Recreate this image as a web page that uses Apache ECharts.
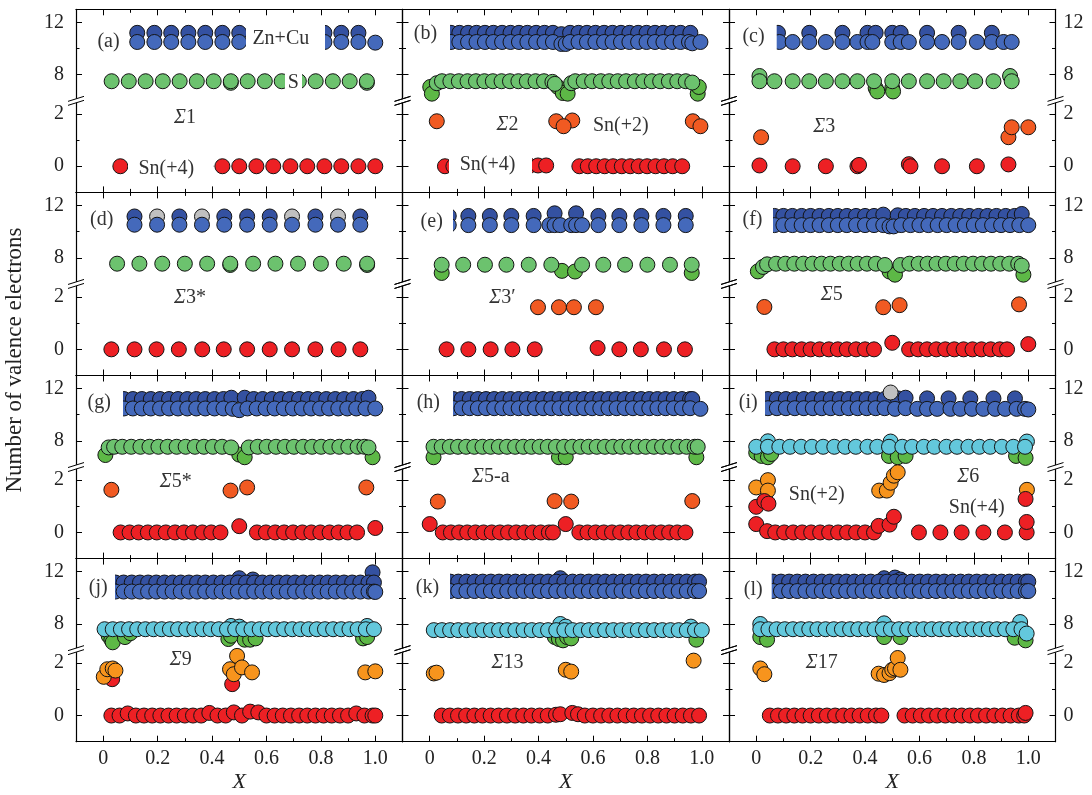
<!DOCTYPE html>
<html>
<head>
<meta charset="utf-8">
<script src="https://cdn.jsdelivr.net/npm/echarts@6/dist/echarts.min.js"></script>
<style>html,body{margin:0;padding:0;background:#fff}#chart{width:1092px;height:795px}</style>
</head>
<body>
<div id="chart"></div>
<script>
// ---------- tick labels ----------
const xTicks = [0, 0.2, 0.4, 0.6, 0.8, 1.0];
const xMinorTicks = [0.1, 0.3, 0.5, 0.7, 0.9];
const yTicksHi = [8, 12];
const yMinorHi = [10];
const yTicksLo = [0, 2];
const yMinorLo = [1];

// ---------- (a) Σ1 ----------
const aZnCuHi = [[0.125,11.2],[0.188,11.2],[0.25,11.2],[0.313,11.2],[0.375,11.2],[0.438,11.2],[0.5,11.2],[0.563,11.2],[0.625,11.2],[0.688,11.2],[0.75,11.2],[0.813,11.2],[0.875,11.2],[0.938,11.2]];
const aZnCuLo = [[0.125,10.5],[0.188,10.5],[0.25,10.5],[0.313,10.5],[0.375,10.5],[0.438,10.5],[0.5,10.5],[0.563,10.5],[0.625,10.5],[0.688,10.5],[0.75,10.5],[0.813,10.5],[0.875,10.5],[0.938,10.5],[1.0,10.45]];
const aS = [[0.469,7.38],[0.969,7.38],[0.031,7.5],[0.094,7.5],[0.156,7.5],[0.219,7.5],[0.281,7.5],[0.344,7.5],[0.406,7.5],[0.469,7.5],[0.531,7.5],[0.594,7.5],[0.656,7.5],[0.719,7.5],[0.781,7.5],[0.844,7.5],[0.906,7.5],[0.969,7.5]];
const aSn4 = [[0.063,0],[0.125,0],[0.188,0],[0.25,0],[0.313,0],[0.375,0],[0.438,0],[0.5,0],[0.563,0],[0.625,0],[0.688,0],[0.75,0],[0.813,0],[0.875,0],[0.938,0],[1.0,0]];

// ---------- (b) Σ2 ----------
const bZnCuHi = [[0.078,11.2],[0.109,11.2],[0.141,11.2],[0.172,11.2],[0.203,11.2],[0.234,11.2],[0.266,11.2],[0.297,11.2],[0.328,11.2],[0.359,11.2],[0.391,11.2],[0.422,11.2],[0.453,11.2],[0.484,11.1],[0.516,11.2],[0.547,11.2],[0.578,11.2],[0.609,11.2],[0.641,11.2],[0.672,11.2],[0.703,11.2],[0.734,11.2],[0.766,11.2],[0.797,11.2],[0.828,11.2],[0.859,11.2],[0.891,11.2],[0.922,11.2],[0.958,11.2]];
const bZnCuLo = [[0.078,10.5],[0.109,10.5],[0.141,10.5],[0.172,10.5],[0.203,10.5],[0.234,10.5],[0.266,10.5],[0.297,10.5],[0.328,10.5],[0.359,10.5],[0.391,10.5],[0.422,10.5],[0.453,10.5],[0.484,10.35],[0.5,10.35],[0.516,10.5],[0.547,10.5],[0.578,10.5],[0.609,10.5],[0.641,10.5],[0.672,10.5],[0.703,10.5],[0.734,10.5],[0.766,10.5],[0.797,10.5],[0.828,10.5],[0.859,10.5],[0.891,10.5],[0.922,10.5],[0.953,10.5],[0.965,10.4],[0.995,10.5]];
const bSd = [[0.002,7.06],[0.008,6.55],[0.471,7.06],[0.489,6.6],[0.507,6.55],[0.985,6.55],[0.989,7.06]];
const bS = [[0.026,7.35],[0.045,7.5],[0.076,7.5],[0.107,7.5],[0.139,7.5],[0.17,7.5],[0.201,7.5],[0.232,7.5],[0.264,7.5],[0.295,7.5],[0.326,7.5],[0.357,7.5],[0.389,7.5],[0.42,7.5],[0.451,7.45],[0.46,7.3],[0.52,7.35],[0.535,7.5],[0.566,7.5],[0.597,7.5],[0.629,7.5],[0.66,7.5],[0.691,7.5],[0.722,7.5],[0.754,7.5],[0.785,7.5],[0.816,7.5],[0.847,7.5],[0.879,7.5],[0.91,7.5],[0.941,7.5],[0.965,7.4]];
const bSn2 = [[0.026,1.72],[0.465,1.72],[0.524,1.75],[0.492,1.53],[0.967,1.72],[0.995,1.53]];
const bSn4 = [[0.056,0],[0.087,0],[0.118,0],[0.149,0],[0.18,0],[0.211,0],[0.243,0],[0.274,0],[0.305,0],[0.336,0],[0.367,0.02],[0.398,0.03],[0.428,0.03],[0.55,0],[0.581,0],[0.612,0],[0.643,0],[0.674,0],[0.706,0],[0.737,0],[0.768,0],[0.799,0],[0.83,0],[0.861,0],[0.893,0],[0.928,0]];

// ---------- (c) Σ3 ----------
const cZnCuHi = [[0.08,11.2],[0.195,11.2],[0.317,11.2],[0.409,11.2],[0.439,11.2],[0.5,11.2],[0.531,11.2],[0.628,11.2],[0.744,11.2],[0.866,11.2]];
const cZnCuLo = [[0.085,10.5],[0.134,10.5],[0.195,10.5],[0.256,10.5],[0.317,10.5],[0.372,10.5],[0.409,10.5],[0.427,10.5],[0.5,10.5],[0.531,10.5],[0.561,10.5],[0.628,10.5],[0.683,10.5],[0.744,10.5],[0.811,10.5],[0.866,10.5],[0.909,10.5],[0.939,10.5]];
const cSd = [[0.439,6.98],[0.445,6.72],[0.5,6.98],[0.503,6.72]];
const cS = [[0.012,7.9],[0.933,7.9],[0.012,7.5],[0.067,7.5],[0.134,7.5],[0.195,7.5],[0.256,7.5],[0.317,7.5],[0.372,7.5],[0.433,7.5],[0.5,7.5],[0.561,7.5],[0.628,7.5],[0.689,7.5],[0.75,7.5],[0.805,7.5],[0.872,7.5],[0.939,7.5]];
const cSn2 = [[0.018,1.11],[0.927,1.11],[0.939,1.49],[1.0,1.49]];
const cSn4 = [[0.012,0.03],[0.134,0],[0.256,0],[0.372,0],[0.378,0.05],[0.561,0.08],[0.567,0],[0.683,0],[0.811,0],[0.927,0.07]];

// ---------- (d) Σ3* ----------
const dZnCuHi = [[0.115,11.16],[0.28,11.16],[0.445,11.16],[0.529,11.16],[0.612,11.16],[0.78,11.16],[0.945,11.16]];
const dGray = [[0.198,11.16],[0.363,11.16],[0.694,11.16],[0.863,11.16]];
const dZnCuLo = [[0.115,10.53],[0.198,10.53],[0.28,10.53],[0.363,10.53],[0.445,10.53],[0.529,10.53],[0.612,10.53],[0.694,10.53],[0.78,10.53],[0.863,10.53],[0.945,10.53]];
const dS = [[0.467,7.45],[0.97,7.45],[0.051,7.55],[0.133,7.55],[0.217,7.55],[0.3,7.55],[0.382,7.55],[0.467,7.55],[0.551,7.55],[0.633,7.55],[0.716,7.55],[0.8,7.55],[0.884,7.55],[0.97,7.55]];
const dSn4 = [[0.03,0],[0.115,0],[0.196,0],[0.278,0],[0.364,0],[0.443,0],[0.529,0],[0.612,0],[0.694,0],[0.78,0],[0.865,0],[0.945,0]];

// ---------- (e) Σ3' ----------
const eZnCuHi = [[0.07,11.2],[0.142,11.2],[0.221,11.2],[0.3,11.2],[0.382,11.2],[0.459,11.4],[0.538,11.4],[0.62,11.2],[0.697,11.2],[0.778,11.2],[0.859,11.2],[0.941,11.2]];
const eZnCuLo = [[0.07,10.5],[0.142,10.5],[0.221,10.5],[0.3,10.5],[0.382,10.5],[0.44,10.5],[0.459,10.5],[0.48,10.5],[0.52,10.5],[0.538,10.5],[0.56,10.5],[0.62,10.5],[0.697,10.5],[0.778,10.5],[0.859,10.5],[0.941,10.5]];
const eSd = [[0.044,6.84],[0.486,7.0],[0.534,6.95],[0.963,6.84]];
const eS = [[0.044,7.47],[0.123,7.47],[0.203,7.47],[0.282,7.47],[0.364,7.47],[0.447,7.47],[0.56,7.47],[0.638,7.47],[0.718,7.47],[0.8,7.47],[0.883,7.47],[0.963,7.47]];
const eSn2 = [[0.398,1.61],[0.475,1.61],[0.53,1.61],[0.611,1.61]];
const eSn4 = [[0.062,0],[0.142,0],[0.224,0],[0.304,0],[0.386,0],[0.617,0.05],[0.697,0],[0.776,0],[0.861,0],[0.938,0]];

// ---------- (f) Σ5 ----------
const fZnCuHi = [[0.067,11.2],[0.1,11.2],[0.133,11.2],[0.167,11.2],[0.2,11.2],[0.233,11.2],[0.267,11.2],[0.3,11.2],[0.333,11.2],[0.367,11.2],[0.4,11.2],[0.433,11.2],[0.467,11.3],[0.52,11.25],[0.55,11.2],[0.583,11.2],[0.617,11.2],[0.65,11.2],[0.683,11.2],[0.717,11.2],[0.75,11.2],[0.783,11.2],[0.817,11.2],[0.85,11.2],[0.883,11.2],[0.917,11.2],[0.95,11.2],[0.976,11.35]];
const fZnCuLo = [[0.067,10.5],[0.1,10.5],[0.133,10.5],[0.167,10.5],[0.2,10.5],[0.233,10.5],[0.267,10.5],[0.3,10.5],[0.333,10.5],[0.367,10.5],[0.4,10.5],[0.433,10.5],[0.467,10.5],[0.49,10.4],[0.505,10.4],[0.533,10.5],[0.567,10.5],[0.6,10.5],[0.633,10.5],[0.667,10.5],[0.7,10.5],[0.733,10.5],[0.767,10.5],[0.8,10.5],[0.833,10.5],[0.867,10.5],[0.9,10.5],[0.933,10.5],[0.967,10.5],[1.0,10.5]];
const fSd = [[0.006,6.96],[0.49,6.95],[0.51,6.71],[0.982,6.71]];
const fS = [[0.025,7.3],[0.04,7.5],[0.073,7.55],[0.107,7.55],[0.14,7.55],[0.173,7.55],[0.207,7.55],[0.24,7.55],[0.273,7.55],[0.307,7.55],[0.34,7.55],[0.373,7.55],[0.407,7.55],[0.44,7.55],[0.473,7.45],[0.53,7.45],[0.563,7.55],[0.597,7.55],[0.63,7.55],[0.663,7.55],[0.697,7.55],[0.73,7.55],[0.763,7.55],[0.797,7.55],[0.83,7.55],[0.863,7.55],[0.897,7.55],[0.93,7.55],[0.963,7.55],[0.976,7.4]];
const fSn2 = [[0.03,1.62],[0.467,1.61],[0.527,1.69],[0.966,1.72]];
const fSn4 = [[0.067,0],[0.1,0],[0.133,0],[0.167,0],[0.2,0],[0.233,0],[0.267,0],[0.3,0],[0.333,0],[0.367,0],[0.4,0],[0.433,0],[0.5,0.25],[0.562,0],[0.595,0],[0.628,0],[0.662,0],[0.695,0],[0.728,0],[0.762,0],[0.795,0],[0.828,0],[0.862,0],[0.895,0],[0.922,0],[1.0,0.2]];

// ---------- (g) Σ5* ----------
const gZnCuHi = [[0.076,11.2],[0.109,11.2],[0.142,11.2],[0.175,11.2],[0.209,11.2],[0.242,11.2],[0.275,11.2],[0.309,11.2],[0.342,11.2],[0.375,11.2],[0.409,11.2],[0.442,11.2],[0.471,11.3],[0.52,11.3],[0.553,11.2],[0.586,11.2],[0.62,11.2],[0.653,11.2],[0.686,11.2],[0.72,11.2],[0.753,11.2],[0.786,11.2],[0.82,11.2],[0.853,11.2],[0.886,11.2],[0.92,11.2],[0.953,11.2],[0.975,11.3]];
const gZnCuLo = [[0.076,10.48],[0.109,10.48],[0.142,10.48],[0.175,10.48],[0.209,10.48],[0.242,10.48],[0.275,10.48],[0.309,10.48],[0.342,10.48],[0.375,10.48],[0.409,10.48],[0.442,10.48],[0.476,10.45],[0.5,10.35],[0.53,10.48],[0.564,10.48],[0.597,10.48],[0.63,10.48],[0.664,10.48],[0.697,10.48],[0.73,10.48],[0.764,10.48],[0.797,10.48],[0.83,10.48],[0.864,10.48],[0.897,10.48],[0.93,10.48],[0.964,10.48],[1.0,10.48]];
const gSd = [[0.008,6.92],[0.5,6.95],[0.52,6.75],[0.99,6.75]];
const gS = [[0.02,7.5],[0.04,7.55],[0.07,7.55],[0.103,7.55],[0.137,7.55],[0.17,7.55],[0.203,7.55],[0.237,7.55],[0.27,7.55],[0.303,7.55],[0.337,7.55],[0.37,7.55],[0.403,7.55],[0.437,7.55],[0.47,7.5],[0.535,7.5],[0.568,7.55],[0.601,7.55],[0.635,7.55],[0.668,7.55],[0.701,7.55],[0.735,7.55],[0.768,7.55],[0.801,7.55],[0.835,7.55],[0.868,7.55],[0.901,7.55],[0.935,7.55],[0.96,7.55],[0.975,7.5]];
const gSn2 = [[0.03,1.63],[0.468,1.6],[0.529,1.72],[0.967,1.72]];
const gSn4 = [[0.064,0],[0.097,0],[0.13,0],[0.164,0],[0.197,0],[0.23,0],[0.264,0],[0.297,0],[0.33,0],[0.364,0],[0.397,0],[0.431,0],[0.5,0.24],[0.565,0],[0.598,0],[0.632,0],[0.665,0],[0.698,0],[0.732,0],[0.765,0],[0.798,0],[0.832,0],[0.865,0],[0.898,0],[0.933,0],[1.0,0.17]];

// ---------- (h) Σ5-a ----------
const hZnCuHi = [[0.087,11.2],[0.117,11.2],[0.147,11.2],[0.177,11.2],[0.207,11.2],[0.237,11.2],[0.267,11.2],[0.297,11.2],[0.327,11.2],[0.357,11.2],[0.387,11.2],[0.417,11.2],[0.447,11.2],[0.477,11.2],[0.507,11.2],[0.537,11.2],[0.567,11.2],[0.597,11.2],[0.627,11.2],[0.657,11.2],[0.687,11.2],[0.717,11.2],[0.747,11.2],[0.777,11.2],[0.807,11.2],[0.837,11.2],[0.867,11.2],[0.897,11.2],[0.927,11.2],[0.957,11.2],[0.965,11.2]];
const hZnCuLo = [[0.087,10.5],[0.117,10.5],[0.147,10.5],[0.177,10.5],[0.207,10.5],[0.237,10.5],[0.267,10.5],[0.297,10.5],[0.327,10.5],[0.357,10.5],[0.387,10.5],[0.417,10.5],[0.447,10.5],[0.477,10.5],[0.507,10.5],[0.537,10.5],[0.567,10.5],[0.597,10.5],[0.627,10.5],[0.657,10.5],[0.687,10.5],[0.717,10.5],[0.747,10.5],[0.777,10.5],[0.807,10.5],[0.837,10.5],[0.867,10.5],[0.897,10.5],[0.927,10.5],[0.957,10.5],[0.995,10.45]];
const hSd = [[0.014,6.75],[0.475,6.75],[0.5,6.75],[0.98,6.75]];
const hS = [[0.014,7.55],[0.044,7.55],[0.074,7.55],[0.104,7.55],[0.134,7.55],[0.164,7.55],[0.194,7.55],[0.224,7.55],[0.254,7.55],[0.284,7.55],[0.314,7.55],[0.344,7.55],[0.374,7.55],[0.404,7.55],[0.434,7.55],[0.464,7.55],[0.494,7.55],[0.524,7.55],[0.554,7.55],[0.584,7.55],[0.614,7.55],[0.644,7.55],[0.674,7.55],[0.704,7.55],[0.734,7.55],[0.764,7.55],[0.794,7.55],[0.824,7.55],[0.854,7.55],[0.884,7.55],[0.914,7.55],[0.944,7.55],[0.974,7.55],[0.985,7.55]];
const hSn2 = [[0.03,1.18],[0.459,1.2],[0.52,1.18],[0.965,1.2]];
const hSn4 = [[0.0,0.32],[0.048,0],[0.078,0],[0.108,0],[0.138,0],[0.168,0],[0.198,0],[0.228,0],[0.258,0],[0.288,0],[0.318,0],[0.348,0],[0.378,0],[0.408,0],[0.438,0],[0.453,0],[0.5,0.32],[0.55,0],[0.58,0],[0.61,0],[0.64,0],[0.67,0],[0.7,0],[0.73,0],[0.76,0],[0.79,0],[0.82,0],[0.85,0],[0.88,0],[0.91,0],[0.94,0]];

// ---------- (i) Σ6 ----------
const iZnCuHi = [[0.043,11.2],[0.076,11.2],[0.109,11.2],[0.142,11.2],[0.175,11.2],[0.208,11.2],[0.241,11.2],[0.274,11.2],[0.307,11.2],[0.34,11.2],[0.373,11.2],[0.406,11.2],[0.439,11.2],[0.472,11.2],[0.52,11.25],[0.549,11.3],[0.628,11.25],[0.707,11.25],[0.787,11.25],[0.872,11.25],[0.951,11.25]];
const iGray = [[0.494,11.7]];
const iZnCuLo = [[0.043,10.5],[0.076,10.5],[0.109,10.5],[0.142,10.5],[0.175,10.5],[0.208,10.5],[0.241,10.5],[0.274,10.5],[0.307,10.5],[0.34,10.5],[0.373,10.5],[0.406,10.5],[0.439,10.5],[0.472,10.5],[0.51,10.45],[0.549,10.5],[0.592,10.45],[0.628,10.45],[0.665,10.45],[0.714,10.45],[0.75,10.45],[0.793,10.45],[0.835,10.45],[0.878,10.45],[0.915,10.45],[0.957,10.45],[0.988,10.45],[1.0,10.4]];
const iS = [[0.0,7.1],[0.02,6.85],[0.043,6.75],[0.055,7.0],[0.488,6.85],[0.52,6.75],[0.549,6.85],[0.955,6.85],[0.99,6.7]];
const iCyan = [[0.043,7.97],[0.494,7.95],[0.995,7.95],[0.0,7.55],[0.043,7.55],[0.085,7.55],[0.124,7.55],[0.165,7.55],[0.205,7.55],[0.246,7.55],[0.287,7.55],[0.327,7.55],[0.366,7.55],[0.409,7.55],[0.445,7.55],[0.488,7.55],[0.537,7.55],[0.573,7.55],[0.616,7.55],[0.655,7.55],[0.699,7.55],[0.738,7.55],[0.78,7.55],[0.82,7.55],[0.86,7.55],[0.903,7.55],[0.945,7.55],[0.988,7.55]];
const iSn2 = [[0.0,1.72],[0.043,2.0],[0.043,1.6],[0.452,1.6],[0.48,1.6],[0.494,1.9],[0.506,2.17],[0.52,2.3],[0.995,1.63]];
const iSn4 = [[0.0,0.98],[0.03,1.2],[0.045,1.1],[0.0,0.32],[0.04,0.05],[0.07,0],[0.103,0],[0.136,0],[0.169,0],[0.202,0],[0.235,0],[0.268,0],[0.301,0],[0.334,0],[0.367,0],[0.4,0],[0.433,0],[0.45,0.25],[0.49,0.3],[0.506,0.6],[0.598,0],[0.677,0],[0.755,0],[0.835,0],[0.914,0],[0.994,0],[0.994,0.4],[0.99,1.28]];

// ---------- (j) Σ9 ----------
const jZnCuHi = [[0.5,11.5],[0.55,11.4],[0.99,11.95],[0.045,11.17],[0.075,11.17],[0.105,11.17],[0.135,11.17],[0.165,11.17],[0.195,11.17],[0.225,11.17],[0.255,11.17],[0.285,11.17],[0.315,11.17],[0.345,11.17],[0.375,11.17],[0.405,11.17],[0.435,11.17],[0.465,11.17],[0.495,11.17],[0.525,11.17],[0.555,11.17],[0.585,11.17],[0.615,11.17],[0.645,11.17],[0.675,11.17],[0.705,11.17],[0.735,11.17],[0.765,11.17],[0.795,11.17],[0.825,11.17],[0.855,11.17],[0.885,11.17],[0.915,11.17],[0.945,11.17],[0.975,11.17],[0.995,11.17]];
const jZnCuLo = [[0.045,10.48],[0.075,10.48],[0.105,10.48],[0.135,10.48],[0.165,10.48],[0.195,10.48],[0.225,10.48],[0.255,10.48],[0.285,10.48],[0.315,10.48],[0.345,10.48],[0.375,10.48],[0.405,10.48],[0.435,10.48],[0.465,10.48],[0.495,10.48],[0.525,10.48],[0.555,10.48],[0.585,10.48],[0.615,10.48],[0.645,10.48],[0.675,10.48],[0.705,10.48],[0.735,10.48],[0.765,10.48],[0.795,10.48],[0.825,10.48],[0.855,10.48],[0.885,10.48],[0.915,10.48],[0.945,10.48],[0.975,10.48],[0.995,10.48],[1.0,10.45]];
const jS = [[0.02,7.1],[0.03,6.8],[0.035,6.6],[0.08,7.0],[0.1,7.3],[0.46,6.85],[0.47,7.1],[0.52,6.8],[0.54,6.8],[0.56,6.9],[0.955,6.9],[0.97,7.0]];
const jCyan = [[0.47,7.85],[0.5,7.8],[0.97,7.85],[0.005,7.6],[0.035,7.6],[0.065,7.6],[0.095,7.6],[0.125,7.6],[0.155,7.6],[0.185,7.6],[0.215,7.6],[0.245,7.6],[0.275,7.6],[0.305,7.6],[0.335,7.6],[0.365,7.6],[0.395,7.6],[0.425,7.6],[0.455,7.6],[0.485,7.6],[0.515,7.6],[0.545,7.6],[0.575,7.6],[0.605,7.6],[0.635,7.6],[0.665,7.6],[0.695,7.6],[0.725,7.6],[0.755,7.6],[0.785,7.6],[0.815,7.6],[0.845,7.6],[0.875,7.6],[0.905,7.6],[0.935,7.6],[0.965,7.6],[0.995,7.6]];
const jSn2 = [[0.002,1.48],[0.015,1.77],[0.035,1.8],[0.045,1.72],[0.466,1.77],[0.48,1.58],[0.492,2.28],[0.51,1.84],[0.547,1.65],[0.963,1.65],[1.0,1.69]];
const jSn4 = [[0.033,1.39],[0.474,1.2],[0.03,0],[0.06,0],[0.09,0.08],[0.12,0],[0.15,0],[0.18,0],[0.21,0],[0.24,0],[0.27,0],[0.3,0],[0.33,0],[0.36,0],[0.39,0.1],[0.42,0],[0.45,0],[0.48,0.12],[0.51,0],[0.54,0.15],[0.57,0.12],[0.6,0],[0.63,0],[0.66,0],[0.69,0],[0.72,0],[0.75,0],[0.78,0],[0.81,0],[0.84,0],[0.87,0],[0.9,0],[0.93,0.08],[0.96,0],[0.99,0],[1.0,0]];

// ---------- (k) Σ13 ----------
const kZnCuHi = [[0.48,11.5],[0.075,11.24],[0.105,11.24],[0.135,11.24],[0.165,11.24],[0.195,11.24],[0.225,11.24],[0.255,11.24],[0.285,11.24],[0.315,11.24],[0.345,11.24],[0.375,11.24],[0.405,11.24],[0.435,11.24],[0.465,11.24],[0.495,11.24],[0.525,11.24],[0.555,11.24],[0.585,11.24],[0.615,11.24],[0.645,11.24],[0.675,11.24],[0.705,11.24],[0.735,11.24],[0.765,11.24],[0.795,11.24],[0.825,11.24],[0.855,11.24],[0.885,11.24],[0.915,11.24],[0.945,11.24],[0.975,11.24],[0.99,11.24]];
const kZnCuLo = [[0.075,10.52],[0.105,10.52],[0.135,10.52],[0.165,10.52],[0.195,10.52],[0.225,10.52],[0.255,10.52],[0.285,10.52],[0.315,10.52],[0.345,10.52],[0.375,10.52],[0.405,10.52],[0.435,10.52],[0.465,10.52],[0.495,10.52],[0.525,10.52],[0.555,10.52],[0.585,10.52],[0.615,10.52],[0.645,10.52],[0.675,10.52],[0.705,10.52],[0.735,10.52],[0.765,10.52],[0.795,10.52],[0.825,10.52],[0.855,10.52],[0.885,10.52],[0.915,10.52],[0.945,10.52],[0.975,10.52],[0.99,10.52]];
const kS = [[0.46,7.0],[0.475,6.85],[0.49,6.75],[0.505,7.0],[0.52,6.9],[0.98,6.8]];
const kCyan = [[0.48,8.0],[0.5,7.8],[0.96,7.8],[0.015,7.53],[0.045,7.53],[0.075,7.53],[0.105,7.53],[0.135,7.53],[0.165,7.53],[0.195,7.53],[0.225,7.53],[0.255,7.53],[0.285,7.53],[0.315,7.53],[0.345,7.53],[0.375,7.53],[0.405,7.53],[0.435,7.53],[0.465,7.53],[0.495,7.53],[0.525,7.53],[0.555,7.53],[0.585,7.53],[0.615,7.53],[0.645,7.53],[0.675,7.53],[0.705,7.53],[0.735,7.53],[0.765,7.53],[0.795,7.53],[0.825,7.53],[0.855,7.53],[0.885,7.53],[0.915,7.53],[0.945,7.53],[0.975,7.53],[1.0,7.53]];
const kSn2 = [[0.015,1.61],[0.025,1.64],[0.5,1.75],[0.52,1.68],[0.97,2.1]];
const kSn4 = [[0.044,0],[0.074,0],[0.104,0],[0.134,0],[0.164,0],[0.194,0],[0.224,0],[0.254,0],[0.284,0],[0.314,0],[0.344,0],[0.374,0],[0.404,0],[0.434,0],[0.464,0.03],[0.48,0.05],[0.524,0.1],[0.545,0.05],[0.57,0],[0.6,0],[0.63,0],[0.66,0],[0.69,0],[0.72,0],[0.75,0],[0.78,0],[0.81,0],[0.84,0],[0.87,0],[0.9,0],[0.93,0],[0.96,0],[0.99,0]];

// ---------- (l) Σ17 ----------
const lZnCuHi = [[0.47,11.5],[0.51,11.55],[0.53,11.4],[0.061,11.24],[0.091,11.24],[0.121,11.24],[0.151,11.24],[0.181,11.24],[0.211,11.24],[0.241,11.24],[0.271,11.24],[0.301,11.24],[0.331,11.24],[0.361,11.24],[0.391,11.24],[0.421,11.24],[0.451,11.24],[0.481,11.24],[0.511,11.24],[0.541,11.24],[0.571,11.24],[0.601,11.24],[0.631,11.24],[0.661,11.24],[0.691,11.24],[0.721,11.24],[0.751,11.24],[0.781,11.24],[0.811,11.24],[0.841,11.24],[0.871,11.24],[0.901,11.24],[0.931,11.24],[0.961,11.24],[0.991,11.24],[1.0,11.24]];
const lZnCuLo = [[0.061,10.52],[0.091,10.52],[0.121,10.52],[0.151,10.52],[0.181,10.52],[0.211,10.52],[0.241,10.52],[0.271,10.52],[0.301,10.52],[0.331,10.52],[0.361,10.52],[0.391,10.52],[0.421,10.52],[0.451,10.52],[0.481,10.52],[0.511,10.52],[0.541,10.52],[0.571,10.52],[0.601,10.52],[0.631,10.52],[0.661,10.52],[0.691,10.52],[0.721,10.52],[0.751,10.52],[0.781,10.52],[0.811,10.52],[0.841,10.52],[0.871,10.52],[0.901,10.52],[0.931,10.52],[0.961,10.52],[0.991,10.52],[1.0,10.52]];
const lS = [[0.015,7.0],[0.04,6.8],[0.47,7.0],[0.53,7.0],[0.95,6.95],[0.99,6.75]];
const lCyan = [[0.015,8.0],[0.47,8.05],[0.97,8.15],[0.015,7.6],[0.045,7.6],[0.075,7.6],[0.105,7.6],[0.135,7.6],[0.165,7.6],[0.195,7.6],[0.225,7.6],[0.255,7.6],[0.285,7.6],[0.315,7.6],[0.345,7.6],[0.375,7.6],[0.405,7.6],[0.435,7.6],[0.465,7.6],[0.495,7.6],[0.525,7.6],[0.555,7.6],[0.585,7.6],[0.615,7.6],[0.645,7.6],[0.675,7.6],[0.705,7.6],[0.735,7.6],[0.765,7.6],[0.795,7.6],[0.825,7.6],[0.855,7.6],[0.885,7.6],[0.915,7.6],[0.945,7.6],[0.975,7.6],[0.994,7.27]];
const lSn2 = [[0.015,1.8],[0.03,1.58],[0.45,1.6],[0.47,1.55],[0.49,1.62],[0.5,1.75],[0.51,1.8],[0.52,2.2],[0.53,1.75]];
const lSn4 = [[0.05,0],[0.08,0],[0.11,0],[0.14,0],[0.17,0],[0.2,0],[0.23,0],[0.26,0],[0.29,0],[0.32,0],[0.35,0],[0.38,0],[0.41,0],[0.44,0],[0.46,0],[0.545,0],[0.575,0],[0.605,0],[0.635,0],[0.665,0],[0.695,0],[0.725,0],[0.755,0],[0.785,0],[0.815,0],[0.845,0],[0.875,0],[0.905,0],[0.935,0],[0.965,0],[0.985,0],[0.99,0.1]];

// ---------- styling ----------
const COLORS = {
  hi: '#3451a1', lo: '#4469bb', gray: '#c0c0c0',
  S: '#6cc26e', Sd: '#5db846', cyan: '#63c8dc',
  sn4: '#ed2024', sn2r: '#f15a22', sn2o: '#f7941d'
};
const FONT_FAMILY = '"Liberation Serif", "DejaVu Serif", serif';
const FONT = '20px ' + FONT_FAMILY;
const TEXT_COLOR = '#222';
const COL_LEFT = [76, 402.5, 729];
const COL_W = 326.5;
const ROW_TOP = 9.3;
const ROW_H = 183.1;
const SYMBOL = 15;

// panel layout: layers are drawn bottom to top; boxes are white masks
// behind the in-panel texts; positions are relative to the panel corner
const panels = [
  { row: 0, col: 0, layers: [[aSn4,'sn4'],[aS,'S'],[aZnCuHi,'hi'],[aZnCuLo,'lo']],
    boxes: [[18,20,34,24],[170,14,79,32],[209,62,17,22],[52,146,85,26]],
    texts: [['(a)',32.5,32],['Zn+Cu',204.8,29],['S',217.3,73.7],['{s|Σ}1',109,108.7],['Sn(+4)',90.3,159]] },
  { row: 0, col: 1, layers: [[bSn4,'sn4'],[bSn2,'sn2r'],[bSd,'Sd'],[bS,'S'],[bZnCuHi,'hi'],[bZnCuLo,'lo']],
    boxes: [[7.5,13,40,30],[46.5,146,83,26]],
    texts: [['(b)',23,24.7],['{s|Σ}2',105,115.7],['Sn(+2)',218.3,116.7],['Sn(+4)',85,155.7]] },
  { row: 0, col: 2, layers: [[cSn4,'sn4'],[cSn2,'sn2r'],[cSd,'Sd'],[cS,'S'],[cZnCuHi,'hi'],[cZnCuLo,'lo']],
    boxes: [[9,13,38.7,30]],
    texts: [['(c)',24.5,27.7],['{s|Σ}3',95.3,117.7]] },
  { row: 1, col: 0, layers: [[dSn4,'sn4'],[dS,'S'],[dZnCuHi,'hi'],[dGray,'gray'],[dZnCuLo,'lo']],
    boxes: [[8,13,42,30]],
    texts: [['(d)',25.7,27.6],['{s|Σ}3*',114,105.6]] },
  { row: 1, col: 1, layers: [[eSn4,'sn4'],[eSn2,'sn2r'],[eSd,'Sd'],[eS,'S'],[eZnCuHi,'hi'],[eZnCuLo,'lo']],
    boxes: [[13,13,37.5,30]],
    texts: [['(e)',29.2,29.6],['{s|Σ}3′',100,105.6]] },
  { row: 1, col: 2, layers: [[fSn4,'sn4'],[fSn2,'sn2r'],[fSd,'Sd'],[fS,'S'],[fZnCuHi,'hi'],[fZnCuLo,'lo']],
    boxes: [[9,13,35,30]],
    texts: [['(f)',23.5,27.6],['{s|Σ}5',102.7,102.6]] },
  { row: 2, col: 0, layers: [[gSn4,'sn4'],[gSn2,'sn2r'],[gSd,'Sd'],[gS,'S'],[gZnCuHi,'hi'],[gZnCuLo,'lo']],
    boxes: [[7,13,40,30]],
    texts: [['(g)',23.2,27.5],['{s|Σ}5*',99.8,106.5]] },
  { row: 2, col: 1, layers: [[hSn4,'sn4'],[hSn2,'sn2r'],[hSd,'Sd'],[hS,'S'],[hZnCuHi,'hi'],[hZnCuLo,'lo']],
    boxes: [[8.5,13,42,30]],
    texts: [['(h)',25.8,27.5],['{s|Σ}5-a',88.3,101.5]] },
  { row: 2, col: 2, layers: [[iSn2,'sn2o'],[iSn4,'sn4'],[iS,'Sd'],[iCyan,'cyan'],[iZnCuHi,'hi'],[iGray,'gray'],[iZnCuLo,'lo']],
    boxes: [[5,13,31,30]],
    texts: [['(i)',19.3,27.5],['Sn(+2)',87.7,119.5],['{s|Σ}6',239.3,101.5],['Sn(+4)',247.7,132.5]] },
  { row: 3, col: 0, layers: [[jSn4,'sn4'],[jSn2,'sn2o'],[jS,'Sd'],[jCyan,'cyan'],[jZnCuHi,'hi'],[jZnCuLo,'lo']],
    boxes: [[7,13,32,30]],
    texts: [['(j)',22.3,29.4],['{s|Σ}9',104.8,101.4]] },
  { row: 3, col: 1, layers: [[kSn4,'sn4'],[kSn2,'sn2o'],[kS,'Sd'],[kCyan,'cyan'],[kZnCuHi,'hi'],[kZnCuLo,'lo']],
    boxes: [[8,13,39.5,30]],
    texts: [['(k)',25,29.4],['{s|Σ}13',105,104.4]] },
  { row: 3, col: 2, layers: [[lSn4,'sn4'],[lSn2,'sn2o'],[lS,'Sd'],[lCyan,'cyan'],[lZnCuHi,'hi'],[lZnCuLo,'lo']],
    boxes: [[10,13,32.7,30]],
    texts: [['(l)',24.3,31.4],['{s|Σ}17',92.7,104.4]] }
];

const axisLineStyle = { color: '#000', width: 1.2 };
const tickStyle = { color: '#000', width: 1 };
const labelStyle = { fontFamily: FONT_FAMILY, fontSize: 20, color: TEXT_COLOR };

function makeX(gi, top, major, showLabel) {
  return {
    gridIndex: gi, type: 'value', min: -0.1, max: 1.1,
    position: top ? 'top' : 'bottom',
    axisLine: { show: major, onZero: false, lineStyle: axisLineStyle },
    axisTick: { show: true, inside: true, length: major ? 6 : 3.5,
      customValues: major ? xTicks : xMinorTicks, lineStyle: tickStyle },
    axisLabel: Object.assign({ show: showLabel, customValues: xTicks, margin: 7,
      formatter: v => (v === 0 ? '0' : v.toFixed(1)) }, labelStyle),
    splitLine: { show: false }
  };
}
function makeY(gi, upper, side, major, showLabel) {
  return {
    gridIndex: gi, type: 'value',
    min: upper ? 6 : -1, max: upper ? 13 : 2.5,
    position: side,
    axisLine: { show: major, onZero: false, lineStyle: axisLineStyle },
    axisTick: { show: true, inside: true, length: major ? 6 : 3.5,
      customValues: major ? (upper ? yTicksHi : yTicksLo) : (upper ? yMinorHi : yMinorLo),
      lineStyle: tickStyle },
    axisLabel: Object.assign({ show: showLabel, customValues: upper ? yTicksHi : yTicksLo,
      margin: side === 'left' ? 12 : 8 }, labelStyle),
    splitLine: { show: false }
  };
}

const grids = [], xAxes = [], yAxes = [], series = [], graphics = [];

panels.forEach(p => {
  const left = COL_LEFT[p.col];
  const top = ROW_TOP + p.row * ROW_H;
  [true, false].forEach(upper => {
    const gi = grids.length;
    grids.push({ left: left, top: upper ? top : top + ROW_H / 2, width: COL_W, height: ROW_H / 2 });
    const xi = xAxes.length;
    xAxes.push(makeX(gi, upper, true, !upper && p.row === 3));
    xAxes.push(makeX(gi, upper, false, false));
    const yi = yAxes.length;
    yAxes.push(makeY(gi, upper, 'left', true, p.col === 0));
    yAxes.push(makeY(gi, upper, 'left', false, false));
    yAxes.push(makeY(gi, upper, 'right', true, p.col === 2));
    yAxes.push(makeY(gi, upper, 'right', false, false));
    p.layers.forEach(([arr, key]) => {
      const pts = arr.filter(d => (upper ? d[1] > 4 : d[1] <= 4));
      if (!pts.length) return;
      series.push({
        type: 'scatter', xAxisIndex: xi, yAxisIndex: yi, data: pts,
        symbol: 'circle', symbolSize: SYMBOL, clip: false, silent: true,
        itemStyle: { color: COLORS[key], borderColor: '#141414', borderWidth: 1, opacity: 1 }
      });
    });
  });

  // axis break marks on both vertical edges
  const ym = top + ROW_H / 2;
  [left, left + COL_W].forEach(xb => {
    graphics.push({ type: 'polygon', z: 55, silent: true,
      shape: { points: [[xb - 8, ym + 4.5], [xb + 8, ym - 0.5], [xb + 8, ym - 4.5], [xb - 8, ym + 0.5]] },
      style: { fill: '#fff' } });
    graphics.push({ type: 'line', z: 56, silent: true,
      shape: { x1: xb - 8, y1: ym + 4.5, x2: xb + 8, y2: ym - 0.5 }, style: { stroke: '#000', lineWidth: 1 } });
    graphics.push({ type: 'line', z: 56, silent: true,
      shape: { x1: xb - 8, y1: ym + 0.5, x2: xb + 8, y2: ym - 4.5 }, style: { stroke: '#000', lineWidth: 1 } });
  });

  p.boxes.forEach(b => {
    graphics.push({ type: 'rect', z: 60, silent: true,
      shape: { x: left + b[0], y: top + b[1], width: b[2], height: b[3] }, style: { fill: '#fff' } });
  });
  p.texts.forEach(t => {
    graphics.push({ type: 'text', z: 70, silent: true,
      style: { text: t[0], x: left + t[1], y: top + t[2], font: FONT, fill: '#333',
        textAlign: 'center', textVerticalAlign: 'middle',
        rich: { s: { fontFamily: FONT_FAMILY, fontSize: 20, fontStyle: 'italic', fill: '#333' } } } });
  });
});

// axis titles
graphics.push({ type: 'text', z: 70, silent: true, x: 15, y: 360, rotation: Math.PI / 2,
  style: { text: 'Number of valence electrons', x: 0, y: 0, font: '23px ' + FONT_FAMILY, fill: TEXT_COLOR,
    textAlign: 'center', textVerticalAlign: 'middle' } });
COL_LEFT.forEach(l => {
  graphics.push({ type: 'text', z: 70, silent: true,
    style: { text: 'X', x: l + COL_W / 2, y: 782, font: 'italic 22px ' + FONT_FAMILY, fill: TEXT_COLOR,
      textAlign: 'center', textVerticalAlign: 'middle' } });
});

const chart = echarts.init(document.getElementById('chart'), null, { renderer: 'canvas' });
chart.setOption({
  animation: false,
  backgroundColor: '#fff',
  grid: grids,
  xAxis: xAxes,
  yAxis: yAxes,
  series: series,
  graphic: { elements: graphics }
});
</script>
</body>
</html>
